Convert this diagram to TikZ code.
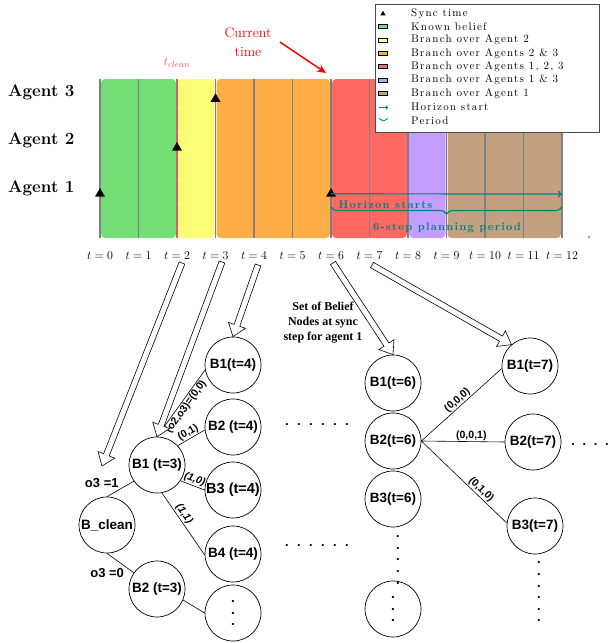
\documentclass[tikz,border=0pt]{standalone}
\usepackage{fontspec}
\setmainfont{Latin Modern Roman}
\newfontfamily\sansf{Liberation Sans}
\newfontfamily\timesf{Liberation Serif}
\newfontfamily\lmsp{Latin Modern Roman}[LetterSpace=11]
\usetikzlibrary{calc,arrows.meta,shapes.geometric,decorations.pathreplacing}

\definecolor{cgreen}{RGB}{116,221,116}
\definecolor{cyellow}{RGB}{255,255,119}
\definecolor{corange}{RGB}{255,173,71}
\definecolor{cred}{RGB}{255,105,97}
\definecolor{cpurple}{RGB}{195,157,255}
\definecolor{cbrown}{RGB}{194,160,128}
\definecolor{cteal}{RGB}{0,128,128}
\definecolor{cclean}{RGB}{255,80,80}

\newcommand\hollowarrow[2]{%
  \coordinate (ha) at ($(#2)!12pt!(#1)$);
  \draw[hollowstyle] ($(#1)!3pt!90:(#2)$) -- ($(ha)!3pt!-90:(#1)$) -- ($(ha)!9pt!-90:(#1)$) -- (#2) -- ($(ha)!9pt!90:(#1)$) -- ($(ha)!3pt!90:(#1)$) -- ($(#1)!3pt!-90:(#2)$) -- cycle;}

\begin{document}
\begin{tikzpicture}[x=1pt,y=-1pt,
  seg/.style={rounded corners=4pt},
  tline/.style={draw=gray, line width=1.5pt},
  tri/.style={regular polygon, regular polygon sides=3, fill=black, inner sep=0pt, minimum size=11.5pt},
  agent/.style={anchor=west, inner sep=0pt, font=\fontsize{17}{20}\selectfont\bfseries},
  tlab/.style={font=\fontsize{13}{15}\selectfont},
  circ/.style={circle, draw, line width=0.7pt, minimum size=56pt, inner sep=0pt, fill=white, font=\sansf\fontsize{13.5}{14}\selectfont\bfseries},
  dotcirc/.style={circ, align=center, font=\sansf\fontsize{13.5}{11.5}\selectfont\bfseries},
  elab/.style={font=\sansf\fontsize{10.5}{12}\selectfont\bfseries, inner sep=1pt},
  ilab/.style={font=\sansf\fontsize{10.5}{12}\selectfont\bfseries\itshape, inner sep=1pt},
  olab/.style={font=\sansf\fontsize{13}{14}\selectfont\bfseries, inner sep=1.5pt},
  hollowstyle/.style={draw, line width=0.6pt, fill=white},
  edge/.style={draw, line width=0.6pt},
  legtext/.style={anchor=west, inner sep=0pt, font=\lmsp\fontsize{11}{12}\selectfont},
  legbox/.style={draw=black, line width=0.5pt, minimum width=9pt, minimum height=4pt, inner sep=0pt},
  tealtext/.style={text=cteal, font=\lmsp\fontsize{11}{12}\selectfont\bfseries, inner sep=0pt},
  hdots/.style={font=\sansf\fontsize{13}{14}\selectfont\bfseries, inner sep=0pt},
  vdots/.style={align=center, font=\sansf\fontsize{13}{11.6}\selectfont\bfseries, inner sep=0pt},
]
\useasboundingbox (0,0) rectangle (609,643);

% ---- timeline bands
\fill[cgreen, seg] (101,79) rectangle (176,238);
\fill[cyellow, seg] (178,79) rectangle (214.5,238);
\fill[corange, seg] (216.5,79) rectangle (330,238);
\fill[cred, seg] (332,79) rectangle (407,238);
\fill[cpurple, seg] (409,79) rectangle (445.5,238);
\fill[cbrown, seg] (447.5,79) rectangle (561,238);
\foreach \k in {0,...,12} \draw[tline] ({100+38.5*\k},79) -- ({100+38.5*\k},238);
\draw[cclean, dash pattern=on 4pt off 2pt, line width=1.3pt] (177,79) -- (177,238);

% ---- agents
\node[agent] (ag3) at (8,92) {Agent 3};
\node[agent] (ag2) at (8,140) {Agent 2};
\node[agent] (ag1) at (8,188) {Agent 1};

% ---- sync triangles
\node[tri] (s1) at (100,193.8) {};
\node[tri] (s2) at (177,147.7) {};
\node[tri] (s3) at (215.5,99) {};
\node[tri] (s4) at (331,193.8) {};

% ---- t labels
\foreach \k in {0,...,12} \node[tlab] (tl\k) at ({100+38.5*\k},256) {$t=\k$};

% ---- t_clean & current time
\node[text=cclean, font=\fontsize{13}{15}\selectfont] (tclean) at (177,63) {$t_{clean}$};
\node[text=red, align=center, font=\fontsize{14}{19}\selectfont] (curt) at (248,42) {Current\\time};
\coordinate (ctip) at (326,73);
\draw[red, line width=1.5pt, -{Stealth[length=9pt,width=8pt]}] ($(curt.east)+(5,0)$) -- (ctip);

% ---- horizon
\coordinate (hend) at (562,194);
\draw[cteal, line width=1.2pt, -{To[length=4pt,width=7pt]}] (s4.center) -- (hend);
\node[tealtext] (hstart) at (385.5,205) {Horizon starts};
\coordinate (brl) at (331,207);
\coordinate (brr) at (562,207);
\draw[cteal, line width=1.1pt, decorate, decoration={brace, mirror, amplitude=7pt}] (brl) -- (brr);
\node[tealtext] (period) at (447,228) {6-step planning period};
\fill[red] (589,237) circle (0.8);

% ---- legend
\node[draw=black!70, line width=0.7pt, fill=white, minimum width=224pt, minimum height=128pt, anchor=north west, inner sep=0pt] (legend) at (375,4) {};
\node[tri, minimum size=6pt] (lg0) at (383,13.8) {};
\node[legbox, fill=cgreen] (lg1) at (383,26.7) {};
\node[legbox, fill=cyellow] (lg2) at (383,40) {};
\node[legbox, fill=corange] (lg3) at (383,53.4) {};
\node[legbox, fill=cred] (lg4) at (383,66.7) {};
\node[legbox, fill=cpurple] (lg5) at (383,80) {};
\node[legbox, fill=cbrown] (lg6) at (383,93.4) {};
\coordinate (lga) at (379,107.5);
\coordinate (lgb) at (388,107.5);
\draw[cteal, line width=0.8pt, -{To[length=2.5pt,width=4.5pt]}] (lga) -- (lgb);
\coordinate (lgc) at (379,118.5);
\coordinate (lgd) at (388,118.5);
\draw[cteal, line width=0.8pt, decorate, decoration={brace, mirror, amplitude=2.5pt}] (lgc) -- (lgd);
\node[legtext] (lt0) at (411,13.3) {Sync time};
\node[legtext] (lt1) at (411,26.7) {Known belief};
\node[legtext] (lt2) at (411,40) {Branch over Agent 2};
\node[legtext] (lt3) at (411,53.4) {Branch over Agents 2 \& 3};
\node[legtext] (lt4) at (411,66.7) {Branch over Agents 1, 2, 3};
\node[legtext] (lt5) at (411,80) {Branch over Agents 1 \& 3};
\node[legtext] (lt6) at (411,93.4) {Branch over Agent 1};
\node[legtext] (lt7) at (411,107) {Horizon start};
\node[legtext] (lt8) at (411,120.3) {Period};

% ---- belief nodes, left tree
\node[circ] (b14) at (233,365) {B1(t=4)};
\node[circ] (b24) at (233,427) {B2 (t=4)};
\node[circ, font=\sansf\fontsize{14.5}{15}\selectfont\bfseries] (b34) at (233,490) {B3 (t=4)};
\node[circ] (b44) at (233,554) {B4 (t=4)};
\node[dotcirc] (bd1) at (233,613) {.\\.\\.};
\node[circ] (b13) at (157,465) {B1 (t=3)};
\node[circ] (bcl) at (107,525) {B\_clean};
\node[circ] (b23) at (157,589) {B2 (t=3)};

\draw[edge] (b13.north) -- node[elab, sloped, below, midway] {(o2,o3)=(0,0)} (b14.190);
\draw[edge] (b13.43) -- node[elab, sloped, above] {(0,1)} (b24.186);
\draw[edge] (b13.326) -- node[ilab, sloped, above] {(1,0)} (b34.west);
\draw[edge] (b13.280) -- node[ilab, sloped, above, pos=0.4] {(1,1)} (b44.182);
\draw[edge] (b13.215) -- node[olab, above left] {o3 =1} (bcl.north);
\draw[edge] (bcl.south) -- node[olab, below left, pos=0.7] {o3 =0} (b23.145);
\draw[edge] (b23.337) -- (bd1.west);

% ---- belief nodes, right part
\node[circ] (b16) at (393,383) {B1(t=6)};
\node[circ] (b26) at (393,441) {B2(t=6)};
\node[circ] (b36) at (393,499) {B3(t=6)};
\node[dotcirc] (bd2) at (393,609) {.\\.\\.};
\node[circ] (b17) at (530,366) {B1(t=7)};
\node[circ] (b27) at (533,442) {B2(t=7)};
\node[circ] (b37) at (535,526) {B3(t=7)};

\draw[edge] (b26.east) -- node[elab, sloped, above] {(0,0,0)} (b17.185);
\draw[edge] (b26.east) -- node[elab, above, pos=0.6] {(0,0,1)} (b27.west);
\draw[edge] (b26.east) -- node[elab, sloped, above, pos=0.65] {(0,1,0)} (b37.174);

% ---- dots
\node[hdots] (dr1) at (317,425) {.\hspace{8.4pt}.\hspace{8.4pt}.\hspace{8.4pt}.\hspace{8.4pt}.\hspace{8.4pt}.};
\node[hdots] (dr2) at (317,546) {.\hspace{8.4pt}.\hspace{8.4pt}.\hspace{8.4pt}.\hspace{8.4pt}.\hspace{8.4pt}.};
\node[hdots] (dr3) at (590,445) {.\hspace{7.6pt}.\hspace{7.6pt}.\hspace{7.6pt}.};
\node[vdots] (dv1) at (398,560) {.\\.\\.\\.\\.};
\node[vdots] (dv2) at (539,592) {.\\.\\.\\.\\.\\.};

% ---- annotation
\node[align=center, font=\timesf\fontsize{12}{15}\selectfont\bfseries, inner sep=0pt] (setlab) at (323,323) {Set of Belief\\Nodes at sync\\step for agent 1};

% ---- hollow arrows
\coordinate (ha1) at (182,263);
\coordinate (ha1e) at (102,466);
\coordinate (ha2) at (222,262);
\coordinate (ha3) at (258,265);
\coordinate (ha4) at (333,263);
\coordinate (ha5) at (372,265);
\hollowarrow{ha1}{ha1e}
\hollowarrow{ha2}{b13.north}
\hollowarrow{ha3}{b14.north}
\hollowarrow{ha4}{b16.north}
\hollowarrow{ha5}{b17.131}
\end{tikzpicture}
\end{document}
